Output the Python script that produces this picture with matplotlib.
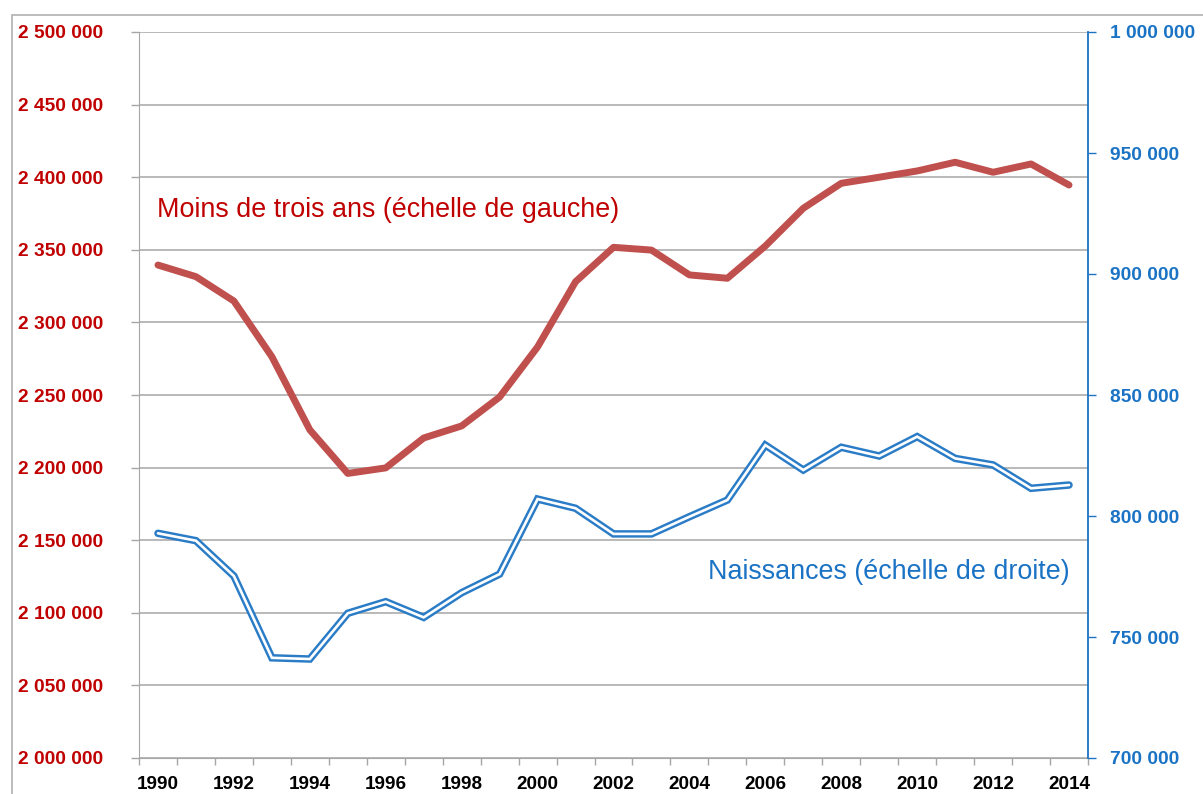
import numpy as np
import matplotlib.pyplot as plt
from matplotlib.patches import Rectangle
from matplotlib.ticker import FuncFormatter

# ------------------ DONNEES ------------------
years = list(range(1990, 2015))

moins_3_ans = [2339500, 2331500, 2314700, 2276400, 2226000, 2196000, 2199800,
               2220400, 2228700, 2248600, 2283100, 2328000, 2351700, 2349800,
               2332700, 2330400, 2352600, 2378600, 2395800, 2400000, 2404300,
               2410300, 2403400, 2409100, 2394600]

naissances = [792850, 789800, 775200, 741400, 740900, 759800, 764600,
              758100, 768300, 776000, 807000, 803200, 792600, 792600,
              799700, 806600, 829300, 819000, 828400, 824800, 832800,
              823800, 821100, 811450, 812800]

left_ticks = list(range(2000000, 2500001, 50000))
right_ticks = list(range(700000, 1000001, 50000))

label_rouge = "Moins de trois ans (échelle de gauche)"
label_bleu = "Naissances (échelle de droite)"

# ------------------ STYLE ------------------
plt.rcParams['font.family'] = ['Liberation Sans', 'DejaVu Sans']

red_line = '#c0504d'
red_text = '#c00000'
blue_line = '#2a7cc7'
blue_text = '#1a73c4'
grid_grey = '#a6a6a6'


def fmt(v, pos):
    return f"{int(v):,}".replace(",", " ")


fig = plt.figure(figsize=(12.03, 7.94), dpi=100)
ax = fig.add_axes([139 / 1203, 1 - 758 / 794, (1088 - 139) / 1203, (758 - 32) / 794])
ax2 = ax.twinx()

# cadre extérieur (coupé à droite et en bas)
fig.patches.append(Rectangle((12 / 1203, -0.1), 1.2, 1.1 - 15 / 794, transform=fig.transFigure,
                             fill=False, edgecolor='#b0b0b0', lw=1.2, clip_on=False))

x = np.arange(len(years))

ax.plot(x, moins_3_ans, color=red_line, lw=5, solid_capstyle='round', solid_joinstyle='round', zorder=3)
# double trait pour les naissances
ax2.plot(x, naissances, color=blue_line, lw=5.4, solid_capstyle='round', solid_joinstyle='miter', zorder=3)
ax2.plot(x, naissances, color='white', lw=1.9, solid_capstyle='round', solid_joinstyle='miter', zorder=4)

ax.set_xlim(-0.5, len(years) - 0.5)
ax.set_ylim(2000000, 2500000)
ax2.set_ylim(700000, 1000000)

# axe gauche
ax.set_yticks(left_ticks)
ax.yaxis.set_major_formatter(FuncFormatter(fmt))
ax.tick_params(axis='y', direction='out', length=6, width=1, color=grid_grey, pad=20,
               labelcolor=red_text, labelsize=13.8)
for t in ax.get_yticklabels():
    t.set_fontweight('bold')
ax.grid(axis='y', color=grid_grey, lw=1.1)
ax.set_axisbelow(True)

# axe droit
ax2.set_yticks(right_ticks)
ax2.yaxis.set_major_formatter(FuncFormatter(fmt))
ax2.tick_params(axis='y', direction='out', length=6, width=1, color=blue_text, pad=10,
                labelcolor=blue_text, labelsize=13.8)
for t in ax2.get_yticklabels():
    t.set_fontweight('bold')

# axe x
ax.set_xticks(x[::2])
ax.set_xticklabels([str(y) for y in years[::2]], fontweight='bold', fontsize=13.6)
ax.set_xticks(np.arange(-0.5, len(years)), minor=True)
ax.tick_params(axis='x', which='major', length=0, pad=13)
ax.tick_params(axis='x', which='minor', direction='out', length=5, width=1, color=grid_grey)

for a in (ax, ax2):
    a.spines['top'].set_visible(False)
    a.spines['left'].set_color(grid_grey)
    a.spines['bottom'].set_color(grid_grey)
    a.spines['right'].set_visible(False)
ax2.spines['right'].set_visible(True)
ax2.spines['right'].set_color(blue_text)
ax2.spines['right'].set_linewidth(1.3)
ax2.spines['left'].set_visible(False)
ax2.spines['bottom'].set_visible(False)

# annotations (positions en pixels, origine en haut)
for px, py, txt, col, ha in [(157, 210, label_rouge, red_text, 'left'),
                             (1070, 572, label_bleu, blue_text, 'right')]:
    fig.text(px / 1203, 1 - py / 794, txt, fontsize=19.4, color=col, ha=ha, va='center')

fig.savefig('out.png', dpi=100)
